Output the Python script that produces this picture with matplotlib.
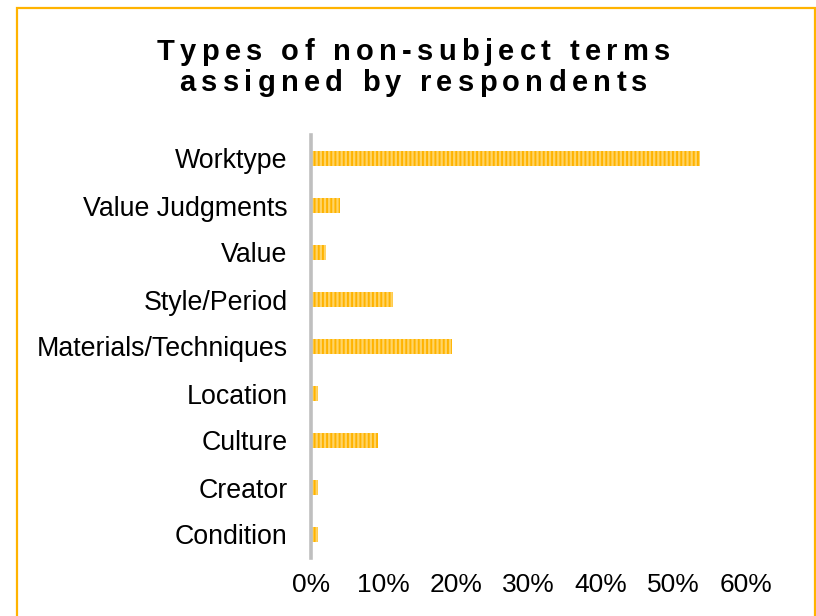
import matplotlib.pyplot as plt
import numpy as np
from matplotlib.font_manager import FontProperties
from matplotlib.patches import Rectangle
from matplotlib.textpath import TextToPath

plt.rcParams['font.family'] = ['Liberation Sans', 'DejaVu Sans']

# term categories (bottom to top) and share of respondents, in %
categories = ['Condition', 'Creator', 'Culture', 'Location', 'Materials/Techniques',
              'Style/Period', 'Value', 'Value Judgments', 'Worktype']
shares = [1.0, 1.0, 9.3, 1.0, 19.5, 11.3, 2.0, 4.0, 53.6]
xticks = [0, 10, 20, 30, 40, 50, 60]
title_lines = ['Types of non-subject terms', 'assigned by respondents']

W, H, DPI = 816, 616, 100
fig = plt.figure(figsize=(W / DPI, H / DPI), dpi=DPI)
ax = fig.add_axes([311 / W, 1 - 558 / H, (746 - 311) / W, (558 - 135) / H])

ORANGE = '#FFB300'
LIGHT = '#FFD466'

# striped bars: light fill with dense orange vertical hatching
plt.rcParams['hatch.linewidth'] = 1.4
y = np.arange(len(categories))
ax.barh(y, shares, height=0.32, facecolor=LIGHT, edgecolor=ORANGE, linewidth=0,
        hatch='||||', zorder=2)

ax.set_xlim(0, 60)
ax.set_ylim(-0.5, len(categories) - 0.5)
ax.set_yticks(y)
ax.set_yticklabels(categories, fontsize=19.3)
ax.set_xticks(xticks)
ax.set_xticklabels([f'{v}%' for v in xticks], fontsize=19)
ax.tick_params(axis='y', length=0, pad=17)
ax.tick_params(axis='x', length=0, pad=11)
for s in ['top', 'right', 'bottom']:
    ax.spines[s].set_visible(False)
ax.spines['left'].set_color('#BFBFBF')
ax.spines['left'].set_linewidth(2.6)
ax.spines['left'].set_zorder(3)

# title with wide letter spacing, laid out one glyph at a time
t2p = TextToPath()
tprop = FontProperties(family='Liberation Sans', weight='bold', size=21)


def advance(c):
    w2, _, _ = t2p.get_text_width_height_descent('HH', tprop, ismath=False)
    w3, _, _ = t2p.get_text_width_height_descent('H' + c + 'H', tprop, ismath=False)
    return (w3 - w2) * DPI / 72


def spaced_title(text, baseline, tracking, center=413.5):
    advs = [advance(c) for c in text]
    total = sum(advs) + tracking * (len(text) - 1)
    x = center - total / 2
    for c, a in zip(text, advs):
        fig.text(x / W, 1 - baseline / H, c, fontproperties=tprop,
                 ha='left', va='baseline', color='black')
        x += a + tracking


nat = sum(advance(c) for c in title_lines[0])
track = (513 - nat) / (len(title_lines[0]) - 1)
spaced_title(title_lines[0], 60, track)
spaced_title(title_lines[1], 91, track)

# chart frame
fig.patches.append(Rectangle((17 / W, -0.05), (815 - 17) / W, 1.05 - 8 / H,
                             transform=fig.transFigure, fill=False,
                             edgecolor=ORANGE, linewidth=1.6))

fig.savefig('out.png', dpi=DPI)
